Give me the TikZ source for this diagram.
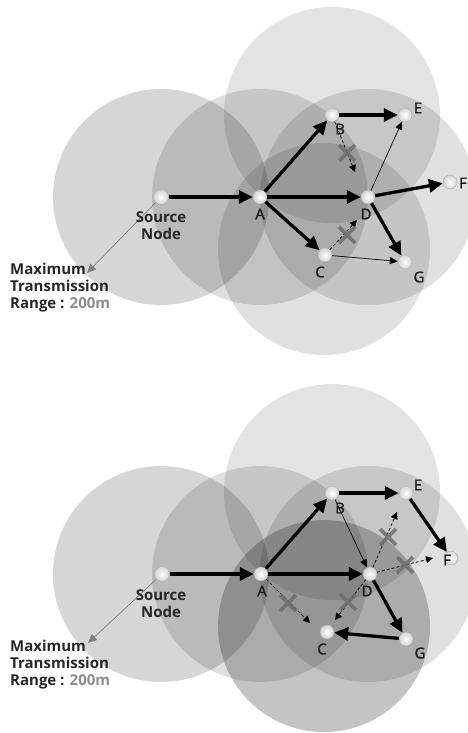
\documentclass[tikz,border=0pt]{standalone}
\usepackage{fontspec}
\setmainfont{Open Sans}
\newfontfamily\lblfont[FakeBold=1.2]{Open Sans}
\usetikzlibrary{arrows.meta}
\definecolor{xgray}{HTML}{6E6E6E}
\definecolor{txtgray}{HTML}{8C8C8C}
\begin{document}
\begin{tikzpicture}[x=1pt,y=-1pt,
  sensor/.style={circle,minimum size=14pt,inner sep=0pt,shading=radial,inner color=white,outer color=gray!35,draw=gray!65,line width=0.4pt},
  lbl/.style={font=\lblfont\fontsize{15}{16}\selectfont,text=black!90,inner sep=0pt},
  boldlbl/.style={font=\bfseries\fontsize{15}{17}\selectfont,text=black!85,inner sep=0pt},
  thickarrow/.style={line width=3.3pt,-{Triangle[length=14pt,width=13pt]}},
  thinarrow/.style={line width=0.7pt,-{Triangle[length=8pt,width=7pt]}},
  dasharrow/.style={line width=0.8pt,dash pattern=on 3pt off 2pt,-{Triangle[length=7pt,width=7pt]}},
  crossline/.style={xgray,line width=3.8pt,opacity=0.85},
  rangearrow/.style={gray,line width=0.7pt,-{Triangle[length=9pt,width=8pt]}},
  xcross/.pic={\draw[crossline] (-8,-8)--(8,8) (-8,8)--(8,-8);}
]
\useasboundingbox (0,0) rectangle (467,733);

% ================= TOP PANEL =================
\begin{scope}
  \fill[black,fill opacity=0.16] (161,197) circle[radius=108];
  \fill[black,fill opacity=0.13] (260,197) circle[radius=108];
  \fill[black,fill opacity=0.11] (332,115) circle[radius=108];
  \fill[black,fill opacity=0.12] (368,197) circle[radius=108];
  \fill[black,fill opacity=0.12] (324,249) circle[radius=106];

  \node[sensor,minimum size=15pt] (S) at (161,197) {};
  \node[sensor] (A) at (260,197) {};
  \node[sensor] (B) at (332,115) {};
  \node[sensor] (E) at (405,115) {};
  \node[sensor] (D) at (368,197) {};
  \node[sensor] (F) at (450,182) {};
  \node[sensor] (C) at (325,255) {};
  \node[sensor] (G) at (405,262) {};

  \coordinate (rangeend) at (87,273);
  \coordinate (bdend) at (355,172);
  \coordinate (cdend) at (357,220);

  \draw[rangearrow] (S) -- (rangeend);
  \draw[thickarrow] (S) -- (A);
  \draw[thickarrow] (A) -- (B);
  \draw[thickarrow] (A) -- (D);
  \draw[thickarrow] (A) -- (C);
  \draw[thickarrow] (B) -- (E);
  \draw[thickarrow] (D) -- (F);
  \draw[thickarrow] (D) -- (G);
  \draw[thinarrow] (D) -- (E);
  \draw[thinarrow] (C) -- (G);
  \draw[dasharrow] (B) -- (bdend);
  \draw[dasharrow] (C) -- (cdend);
  \pic at (347,153) {xcross};
  \pic at (347,235) {xcross};

  \node[boldlbl,align=center] (lS) at (161,226) {Source\\Node};
  \node[lbl] (lA) at (260,214) {A};
  \node[lbl] (lB) at (340,129) {B};
  \node[lbl] (lC) at (320,272) {C};
  \node[lbl] (lD) at (366,214) {D};
  \node[lbl] (lE) at (418,108) {E};
  \node[lbl,anchor=east] (lF) at (467,183) {F};
  \node[lbl] (lG) at (419,277) {G};
  \node[boldlbl,align=left,anchor=north west] (lR) at (10,263) {Maximum\\Transmission\\Range : \textcolor{txtgray}{200m}};
\end{scope}

% ================= BOTTOM PANEL =================
\begin{scope}[shift={(0,377)}]
  \fill[black,fill opacity=0.16] (161,197) circle[radius=108];
  \fill[black,fill opacity=0.13] (260,197) circle[radius=108];
  \fill[black,fill opacity=0.11] (332,115) circle[radius=108];
  \fill[black,fill opacity=0.12] (368,197) circle[radius=108];
  \fill[black,fill opacity=0.23] (324,249) circle[radius=106];

  \node[sensor,minimum size=15pt] (S2) at (162,197) {};
  \node[sensor] (A2) at (261,197) {};
  \node[sensor] (B2) at (332,116) {};
  \node[sensor] (E2) at (406,116) {};
  \node[sensor] (D2) at (370,197) {};
  \node[sensor] (F2) at (451,181) {};
  \node[sensor] (C2) at (327,255) {};
  \node[sensor] (G2) at (406,262) {};

  \coordinate (rangeend2) at (88,266);
  \coordinate (acend) at (310,246);
  \coordinate (deend) at (397,135);
  \coordinate (dfend) at (433,181);
  \coordinate (dcend) at (335,243);

  \draw[rangearrow] (S2) -- (rangeend2);
  \draw[thickarrow] (S2) -- (A2);
  \draw[thickarrow] (A2) -- (B2);
  \draw[thickarrow] (A2) -- (D2);
  \draw[thickarrow] (B2) -- (E2);
  \draw[thickarrow] (E2) -- (F2);
  \draw[thickarrow] (D2) -- (G2);
  \draw[thickarrow] (G2) -- (C2);
  \draw[thinarrow] (B2) -- (D2);
  \draw[dasharrow] (A2) -- (acend);
  \draw[dasharrow] (D2) -- (deend);
  \draw[dasharrow] (D2) -- (dfend);
  \draw[dasharrow] (D2) -- (dcend);
  \pic at (288,226) {xcross};
  \pic at (388,160) {xcross};
  \pic at (405,188) {xcross};
  \pic at (348,225) {xcross};

  \node[boldlbl,align=center] (lS2) at (161,227) {Source\\Node};
  \node[lbl] (lA2) at (262,214) {A};
  \node[lbl] (lB2) at (340,131) {B};
  \node[lbl] (lC2) at (322,272) {C};
  \node[lbl] (lD2) at (367,214) {D};
  \node[lbl] (lE2) at (418,108) {E};
  \node[lbl] (lF2) at (447,183) {F};
  \node[lbl] (lG2) at (420,276) {G};
  \node[boldlbl,align=left,anchor=north west] (lR2) at (10,263) {Maximum\\Transmission\\Range : \textcolor{txtgray}{200m}};
\end{scope}
\end{tikzpicture}
\end{document}
